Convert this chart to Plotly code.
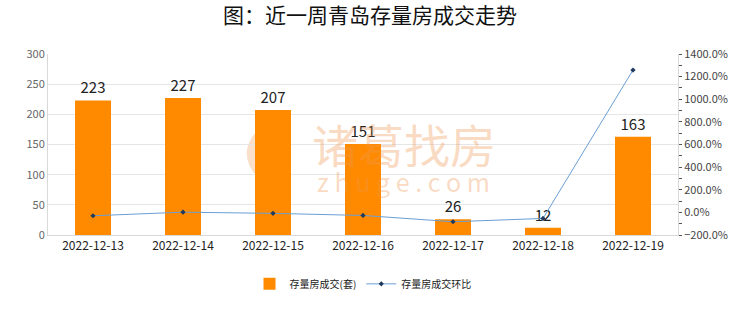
import plotly.graph_objects as go

dates = ["2022-12-13", "2022-12-14", "2022-12-15", "2022-12-16", "2022-12-17", "2022-12-18", "2022-12-19"]
volume = [223, 227, 207, 151, 26, 12, 163]
ratio = [-30.0, 1.8, -8.8, -27.1, -82.8, -53.8, 1258.3]

font = "Noto Sans CJK SC"
wm = "rgba(240,150,80,0.35)"

fig = go.Figure()
fig.add_trace(go.Bar(
    x=dates, y=volume, name="存量房成交(套)",
    marker=dict(color="#FF8A00", line=dict(width=0)),
    width=0.4,
    text=[str(v) for v in volume], textposition="outside",
    textfont=dict(size=15, color="#222", family=font),
    cliponaxis=False,
))
fig.add_trace(go.Scatter(
    x=dates, y=ratio, name="存量房成交环比", yaxis="y2",
    mode="lines+markers",
    line=dict(color="#6A9FD4", width=1),
    marker=dict(color="#1F3A5F", size=4, symbol="diamond"),
))

# watermark (decorative)
PL, PW, PB, PH = 48, 630, 235, 181
def px(x, y):
    return f"{(x - PL) / PW:.4f},{(PB - y) / PH:.4f}"

logo_left = f"M{px(265,123)} Q{px(230,152)} {px(262,182)} Q{px(249,152)} {px(265,123)} Z"
logo_right = f"M{px(270,123)} Q{px(305,152)} {px(273,182)} Q{px(286,152)} {px(270,123)} Z"
for p in (logo_left, logo_right):
    fig.add_shape(type="path", path=p, xref="paper", yref="paper",
                  fillcolor="rgba(240,150,80,0.3)", line=dict(width=0), layer="below")

fig.add_annotation(text="诸葛找房", x=0.565, y=0.508, xref="paper", yref="paper",
                   xanchor="center", yanchor="middle",
                   showarrow=False, font=dict(size=46, color=wm, family=font))
fig.add_annotation(text="z h u g e . c o m", x=0.565, y=0.298, xref="paper", yref="paper",
                   xanchor="center", yanchor="middle",
                   showarrow=False, font=dict(size=25, color=wm, family=font))

fig.update_layout(
    width=740, height=312,
    margin=dict(l=48, r=62, t=54, b=77),
    paper_bgcolor="white", plot_bgcolor="white",
    title=dict(text="图：近一周青岛存量房成交走势", x=0.5, xanchor="center", y=0.95, yanchor="middle",
               font=dict(size=21, color="#111", family=font)),
    font=dict(family=font, size=11, color="#555"),
    bargap=0.6,
    xaxis=dict(showgrid=False, showline=True, linecolor="#D9D9D9", ticks="",
               tickfont=dict(size=12, color="#222"), type="category"),
    yaxis=dict(range=[0, 300], dtick=50, showgrid=True, gridcolor="#E6E6E6",
               showline=True, linecolor="#D9D9D9", zeroline=False, ticks="",
               tickfont=dict(size=11, color="#666")),
    yaxis2=dict(overlaying="y", side="right", range=[-200, 1400], dtick=200,
                showgrid=False, zeroline=False, showline=True, linecolor="#D9D9D9",
                ticks="outside", ticklen=3, tickcolor="#555",
                minor=dict(ticks="outside", ticklen=3, dtick=100, tickcolor="#555"),
                tickformat=".1f", ticksuffix="%", tickfont=dict(size=11, color="#444")),
    legend=dict(orientation="h", x=0.5, xanchor="center", y=-0.27, yanchor="middle",
                font=dict(size=10, color="#222"), itemwidth=30),
    showlegend=True,
)

fig.write_html("out.html")
